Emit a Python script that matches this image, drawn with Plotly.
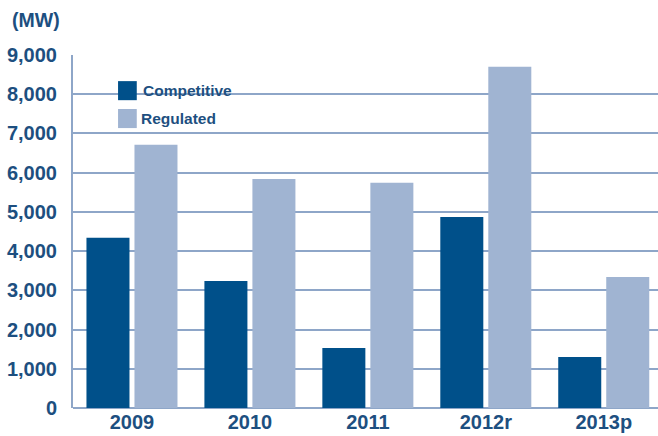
import plotly.graph_objects as go

years = ["2009", "2010", "2011", "2012r", "2013p"]
competitive = [4340, 3240, 1530, 4870, 1300]
regulated = [6710, 5840, 5740, 8700, 3340]
y_ticks = [0, 1000, 2000, 3000, 4000, 5000, 6000, 7000, 8000, 9000]
y_tick_text = ["0", "1,000", "2,000", "3,000", "4,000", "5,000", "6,000", "7,000", "8,000", "9,000"]

DARK = "#00508A"
LIGHT = "#A0B4D2"
TEXT = "#1D4F80"
GRID = "#8EA6C8"
FAMILY = "Liberation Sans, Arial, sans-serif"
Y_FONT = dict(family=FAMILY, size=20, color=TEXT)
X_FONT = dict(family=FAMILY, size=20, color=TEXT)

fig = go.Figure()
fig.add_bar(x=years, y=competitive, name="Competitive", marker_color=DARK,
            marker_line_width=0, showlegend=False)
fig.add_bar(x=years, y=regulated, name="Regulated", marker_color=LIGHT,
            marker_line_width=0, showlegend=False)

# hand-drawn legend block on a white panel that hides the gridlines behind it
fig.add_shape(type="rect", xref="paper", yref="paper", x0=0.029, x1=0.245,
              y0=0.775, y1=0.95, fillcolor="white", line_width=0, layer="between")
for i, (name, col) in enumerate([("Competitive", DARK), ("Regulated", LIGHT)]):
    y_top = 0.926 - i * 0.079
    fig.add_shape(type="rect", xref="paper", yref="paper", x0=0.077, x1=0.109,
                  y0=y_top - 0.054, y1=y_top, fillcolor=col, line_width=0, layer="above")
    fig.add_annotation(xref="paper", yref="paper", x=0.116 - i * 0.004, y=y_top - 0.027,
                       text=f"<b>{name}</b>", showarrow=False, xanchor="left",
                       yanchor="middle", font=dict(family=FAMILY, size=15.5, color=TEXT))

fig.add_annotation(xref="paper", yref="paper", x=-0.107, y=1.0, yshift=35,
                   text="<b>(MW)</b>", showarrow=False, xanchor="left", yanchor="middle",
                   font=dict(family=FAMILY, size=19.5, color=TEXT))

fig.update_layout(
    width=658, height=436,
    margin=dict(l=73, r=0, t=55, b=28, autoexpand=False),
    paper_bgcolor="white", plot_bgcolor="white",
    barmode="group", bargap=0.186, bargroupgap=0.104,
    xaxis=dict(range=[-0.5, 4.46], showgrid=False, showline=False, zeroline=False,
               automargin=False, ticks="", tickfont=X_FONT,
               tickprefix="<b>", ticksuffix="</b>", ticklabelstandoff=0),
    yaxis=dict(range=[0, 9000], tickvals=y_ticks, ticktext=[f"<b>{t}</b>" for t in y_tick_text],
               automargin=False, showgrid=True, gridcolor=GRID, gridwidth=2,
               zeroline=True, zerolinecolor=GRID, zerolinewidth=2,
               showline=True, linecolor=GRID, linewidth=2,
               ticks="", tickfont=Y_FONT, ticklabelstandoff=10),
)

fig.write_html("out.html")
